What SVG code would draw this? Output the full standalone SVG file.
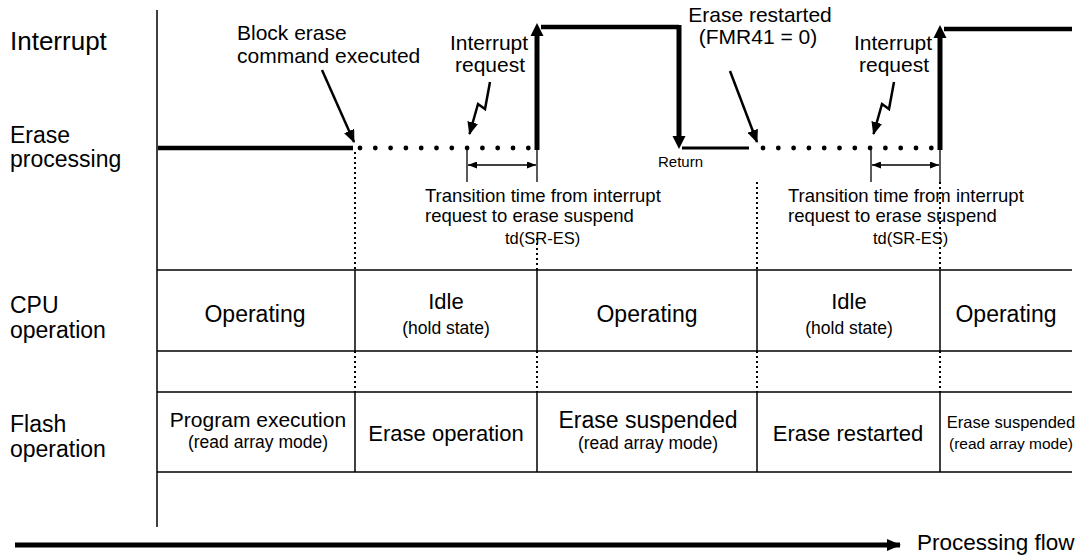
<svg xmlns="http://www.w3.org/2000/svg" width="1086" height="555" viewBox="0 0 1086 555">
<style>
text{font-family:"Liberation Sans",Arial,sans-serif;fill:#000}
.lbl{font-size:23px}
.big{font-size:23px}
.sub{font-size:17.5px}
.ann{font-size:21px}
.tr{font-size:18.5px}
.td{font-size:16.5px}
.thin{stroke:#000;stroke-width:1.5;fill:none}
.dot{stroke:#000;stroke-width:2;stroke-dasharray:2 3;fill:none}
.wave{stroke:#000;stroke-width:4.5;fill:none}
.ptr{stroke:#000;stroke-width:2.5;fill:none}
.dim{stroke:#000;stroke-width:1.3;fill:none}
</style>
<defs>
<marker id="ah" viewBox="0 0 13 11" refX="12" refY="5.5" markerWidth="13" markerHeight="11" markerUnits="userSpaceOnUse" orient="auto"><path d="M0,0 L13,5.5 L0,11 Z" fill="#000"/></marker>
<marker id="ds" viewBox="0 0 9 7" refX="9" refY="3.5" markerWidth="9" markerHeight="7" markerUnits="userSpaceOnUse" orient="auto-start-reverse"><path d="M0,0 L9,3.5 L0,7 Z" fill="#000"/></marker>
<marker id="big" viewBox="0 0 14 12" refX="13" refY="6" markerWidth="14" markerHeight="12" markerUnits="userSpaceOnUse" orient="auto"><path d="M0,0 L14,6 L0,12 Z" fill="#000"/></marker>
</defs>

<g id="axis"><line class="thin" x1="157" y1="10" x2="157" y2="527"/></g>

<g id="row-labels">
<text x="10" y="50" style="font-size:26px">Interrupt</text>
<text class="lbl" x="10" y="143">Erase</text>
<text class="lbl" x="10" y="167">processing</text>
<text class="lbl" x="10" y="313">CPU</text>
<text class="lbl" x="10" y="338">operation</text>
<text class="lbl" x="10" y="432">Flash</text>
<text class="lbl" x="10" y="457">operation</text>
</g>

<g id="erase-waveform">
<line class="wave" x1="158" y1="148" x2="353" y2="148"/>
<g id="dots1">
<circle cx="360" cy="148" r="2.4"/><circle cx="375.3" cy="148" r="2.4"/><circle cx="390.6" cy="148" r="2.4"/><circle cx="405.9" cy="148" r="2.4"/><circle cx="421.2" cy="148" r="2.4"/><circle cx="436.5" cy="148" r="2.4"/><circle cx="451.8" cy="148" r="2.4"/><circle cx="467.1" cy="148" r="2.4"/><circle cx="482.4" cy="148" r="2.4"/><circle cx="497.7" cy="148" r="2.4"/><circle cx="513" cy="148" r="2.4"/><circle cx="528.3" cy="148" r="2.4"/>
</g>
<line class="wave" x1="537" y1="150" x2="537" y2="35" style="stroke-width:5"/>
<polygon points="530.5,36 543.5,36 537,23"/>
<line class="wave" x1="541" y1="27" x2="679" y2="27"/>
<line class="wave" x1="679" y1="25" x2="679" y2="137" style="stroke-width:5"/>
<polygon points="672.5,136 685.5,136 679,149"/>
<line class="wave" x1="682" y1="148" x2="749" y2="148" style="stroke-width:3"/>
<g id="dots2">
<circle cx="763" cy="148" r="2.4"/><circle cx="778.3" cy="148" r="2.4"/><circle cx="793.6" cy="148" r="2.4"/><circle cx="808.9" cy="148" r="2.4"/><circle cx="824.2" cy="148" r="2.4"/><circle cx="839.5" cy="148" r="2.4"/><circle cx="854.8" cy="148" r="2.4"/><circle cx="870.1" cy="148" r="2.4"/><circle cx="885.4" cy="148" r="2.4"/><circle cx="900.7" cy="148" r="2.4"/><circle cx="916" cy="148" r="2.4"/><circle cx="931.3" cy="148" r="2.4"/>
</g>
<line class="wave" x1="940" y1="150" x2="940" y2="37" style="stroke-width:5"/>
<polygon points="933.5,38 946.5,38 940,25"/>
<line class="wave" x1="944" y1="29" x2="1072" y2="29"/>
<text x="658" y="167" style="font-size:15px">Return</text>
</g>

<g id="annotations">
<text class="ann" x="237" y="40">Block erase</text>
<text class="ann" x="237" y="63">command executed</text>
<text class="ann" x="489" y="50" text-anchor="middle">Interrupt</text>
<text class="ann" x="490" y="72" text-anchor="middle">request</text>
<text class="ann" x="760" y="22" text-anchor="middle">Erase restarted</text>
<text class="ann" x="758" y="44" text-anchor="middle">(FMR41 = 0)</text>
<text class="ann" x="893" y="50" text-anchor="middle">Interrupt</text>
<text class="ann" x="894" y="72" text-anchor="middle">request</text>
<text class="tr" x="425" y="202">Transition time from interrupt</text>
<text class="tr" x="425" y="222">request to erase suspend</text>
<text class="td" x="505" y="244">td(SR-ES)</text>
<text class="tr" x="788" y="202">Transition time from interrupt</text>
<text class="tr" x="788" y="222">request to erase suspend</text>
<text class="td" x="873" y="244">td(SR-ES)</text>
</g>

<g id="connectors">
<line class="ptr" x1="322" y1="70" x2="354" y2="142" marker-end="url(#ah)"/>
<polyline class="ptr" points="490,82 485,109 478,104 469.5,134" marker-end="url(#ah)"/>
<line class="ptr" x1="730" y1="71" x2="757" y2="142" marker-end="url(#ah)"/>
<polyline class="ptr" points="894,82 889,109 882,104 873.5,134" marker-end="url(#ah)"/>
<line class="dim" x1="467" y1="150" x2="467" y2="182"/>
<line class="dim" x1="537" y1="150" x2="537" y2="182"/>
<line class="dim" x1="468" y1="165" x2="536" y2="165" marker-start="url(#ds)" marker-end="url(#ds)"/>
<line class="dim" x1="871" y1="150" x2="871" y2="182"/>
<line class="dim" x1="940" y1="150" x2="940" y2="182"/>
<line class="dim" x1="872" y1="165" x2="939" y2="165" marker-start="url(#ds)" marker-end="url(#ds)"/>
<line x1="15" y1="545" x2="900" y2="545" stroke="#000" stroke-width="5" marker-end="url(#big)"/>
</g>

<g id="timing-guides">
<line class="dot" x1="355" y1="152" x2="355" y2="270"/>
<line class="dot" x1="537" y1="238" x2="537" y2="270"/>
<line class="dot" x1="757" y1="182" x2="757" y2="270"/>
<line class="dot" x1="940" y1="182" x2="940" y2="270"/>
<line class="dot" x1="355" y1="351" x2="355" y2="392"/>
<line class="dot" x1="537" y1="351" x2="537" y2="392"/>
<line class="dot" x1="757" y1="351" x2="757" y2="392"/>
<line class="dot" x1="940" y1="351" x2="940" y2="392"/>
</g>

<g id="table-grid">
<line class="thin" x1="157" y1="270" x2="1072" y2="270"/>
<line class="thin" x1="157" y1="351" x2="1072" y2="351"/>
<line class="thin" x1="157" y1="392" x2="1072" y2="392"/>
<line class="thin" x1="157" y1="472" x2="1072" y2="472"/>
<line class="thin" x1="355" y1="270" x2="355" y2="351"/>
<line class="thin" x1="537" y1="270" x2="537" y2="351"/>
<line class="thin" x1="757" y1="270" x2="757" y2="351"/>
<line class="thin" x1="940" y1="270" x2="940" y2="351"/>
<line class="thin" x1="355" y1="392" x2="355" y2="472"/>
<line class="thin" x1="537" y1="392" x2="537" y2="472"/>
<line class="thin" x1="757" y1="392" x2="757" y2="472"/>
<line class="thin" x1="940" y1="392" x2="940" y2="472"/>
</g>

<g id="cpu-operating-1"><text class="big" x="255" y="322" text-anchor="middle">Operating</text></g>
<g id="cpu-idle-1"><text x="446" y="309" text-anchor="middle" style="font-size:22px">Idle</text><text class="sub" x="446" y="334" text-anchor="middle">(hold state)</text></g>
<g id="cpu-operating-2"><text class="big" x="647" y="322" text-anchor="middle">Operating</text></g>
<g id="cpu-idle-2"><text x="849" y="309" text-anchor="middle" style="font-size:22px">Idle</text><text class="sub" x="849" y="334" text-anchor="middle">(hold state)</text></g>
<g id="cpu-operating-3"><text class="big" x="1006" y="322" text-anchor="middle">Operating</text></g>

<g id="flash-program"><text x="258" y="427" text-anchor="middle" style="font-size:21px">Program execution</text><text class="sub" x="258" y="448" text-anchor="middle">(read array mode)</text></g>
<g id="flash-erase-op"><text x="446" y="441" text-anchor="middle" style="font-size:22px">Erase operation</text></g>
<g id="flash-suspended-1"><text class="big" x="648" y="428" text-anchor="middle">Erase suspended</text><text class="sub" x="648" y="449" text-anchor="middle">(read array mode)</text></g>
<g id="flash-restarted"><text x="848" y="441" text-anchor="middle" style="font-size:22px">Erase restarted</text></g>
<g id="flash-suspended-2"><text x="1011" y="428" text-anchor="middle" style="font-size:16.5px">Erase suspended</text><text x="1011" y="449" text-anchor="middle" style="font-size:15.5px">(read array mode)</text></g>

<g id="flow-label"><text x="917" y="550" style="font-size:22.5px">Processing flow</text></g>
</svg>
